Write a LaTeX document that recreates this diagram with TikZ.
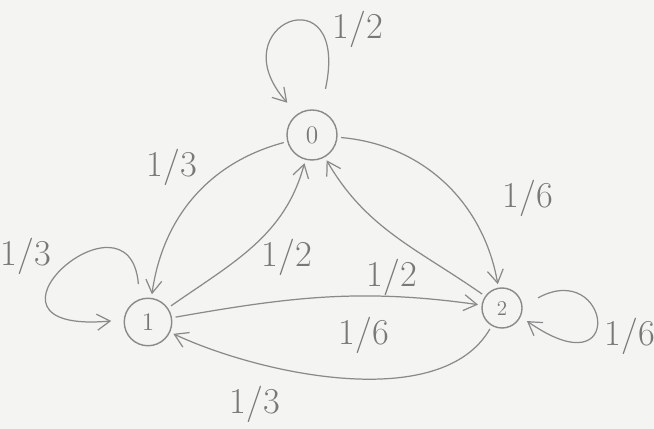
\documentclass[tikz,border=0pt]{standalone}
\usepackage{tikz}
\usetikzlibrary{arrows.meta}
\definecolor{kursun}{HTML}{8A8A8A}
\definecolor{yazi}{HTML}{787878}
\definecolor{kagit}{HTML}{F4F4F2}

\begin{document}
\begin{tikzpicture}[
  state/.style={draw=kursun,circle,line width=0.8pt,minimum size=0.95cm,text=yazi,font=\Large},
  prob/.style={text=yazi,font=\huge},
  edge/.style={draw=kursun,line width=0.7pt,-{Straight Barb[length=2.6mm,width=3.2mm]},shorten >=2pt,shorten <=2pt}]
\useasboundingbox (0,0) rectangle (13.08,8.58);
\fill[kagit] (0,0) rectangle (13.08,8.58);
% states
\node[state,minimum size=1cm] (s0) at (6.24,5.88) {0};
\node[state] (s1) at (2.96,2.14) {1};
\node[state,minimum size=0.8cm,font=\large] (s2) at (10.04,2.42) {2};
% self loops
\draw[edge,shorten <=0.45cm,shorten >=0.3cm] (s0.70) .. controls +(0.6,2.8) and +(-1.6,1.8) .. (s0.125);
\draw[edge,shorten <=0.3cm,shorten >=0.25cm] (s1.110) .. controls +(-0.2,2.4) and +(-3.4,-0.3) .. (s1.175);
\draw[edge,shorten <=0.35cm,shorten >=0.15cm] (s2.5) .. controls +(1.75,0.95) and +(2.15,-1.5) .. (s2.-25);
% transitions
\draw[edge] (s0) to[out=195,in=82] (s1);
\draw[edge] (s1) to[out=35,in=255] (s0);
\draw[edge] (s2) to[out=145,in=300] (s0);
\draw[edge] (s0) to[out=-5,in=100] (s2);
\draw[edge] (s1) to[out=10,in=172] (s2);
\draw[edge] (s2) to[out=-120,in=-25,looseness=0.8] (s1);
% probabilities
\node[prob] (p00) at (7.16,8.00) {1/2};
\node[prob] (p01) at (3.44,5.24) {1/3};
\node[prob] (p10) at (5.74,3.44) {1/2};
\node[prob] (p20) at (7.84,3.04) {1/2};
\node[prob] (p02) at (10.56,4.62) {1/6};
\node[prob] (p12) at (7.28,1.88) {1/6};
\node[prob] (p21) at (5.10,0.50) {1/3};
\node[prob] (p11) at (0.52,3.46) {1/3};
\node[prob] (p22) at (12.60,1.86) {1/6};
\end{tikzpicture}
\end{document}
